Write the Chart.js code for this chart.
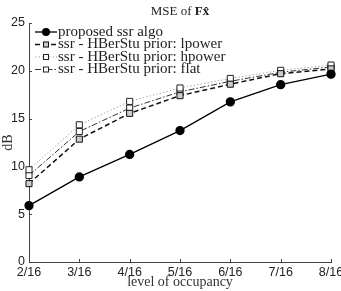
<!DOCTYPE html>
<html><head><meta charset="utf-8">
<script src="https://cdn.jsdelivr.net/npm/chart.js@4.4.0/dist/chart.umd.min.js"></script>
<style>
html,body{margin:0;padding:0;background:#fff;overflow:hidden;}
#wrap{width:341px;height:291px;overflow:hidden;position:relative;}
#box{width:350px;height:291px;position:absolute;left:0;top:0;}
</style></head>
<body>
<div id="wrap"><div id="box"><canvas id="c"></canvas></div></div>
<script>
const categories = ['2/16','3/16','4/16','5/16','6/16','7/16','8/16'];
const proposed = [5.9, 8.9, 11.25, 13.75, 16.75, 18.55, 19.65];
const lpower   = [8.2, 12.85, 15.55, 17.4, 18.6, 19.7, 20.2];
const hpower   = [9.65, 14.35, 16.8, 18.2, 19.2, 20.05, 20.6];
const flat     = [9.05, 13.65, 16.1, 17.8, 18.9, 19.85, 20.4];
const yTicks   = [0, 5, 10, 15, 20, 25];
const seriesNames = ['proposed ssr algo','ssr - HBerStu prior: lpower','ssr - HBerStu prior: hpower','ssr - HBerStu prior: flat'];

const SERIF = '"Liberation Serif","DejaVu Serif",serif';
const SANS = '"Liberation Sans",Arial,sans-serif';

const overlay = {
  id: 'overlay',
  afterDraw(chart) {
    const ctx = chart.ctx;
    const x = chart.scales.x, y = chart.scales.y;
    const ca = chart.chartArea;
    ctx.save();
    ctx.strokeStyle = '#444'; ctx.lineWidth = 1;
    yTicks.forEach(v => {
      const py = Math.round(y.getPixelForValue(v)) + 0.5;
      ctx.beginPath(); ctx.moveTo(ca.left, py); ctx.lineTo(ca.left + 3, py); ctx.stroke();
    });
    categories.forEach((c, i) => {
      const px = Math.round(x.getPixelForValue(i)) + 0.5;
      ctx.beginPath(); ctx.moveTo(px, ca.bottom); ctx.lineTo(px, ca.bottom - 3); ctx.stroke();
    });
    // title
    const cx = (ca.left + ca.right) / 2;
    ctx.fillStyle = '#222';
    ctx.textBaseline = 'middle';
    const t1 = 'MSE of ', t2 = 'Fx\u0302';
    ctx.font = '13px ' + SERIF;
    const w1 = ctx.measureText(t1).width;
    ctx.font = 'bold 13px ' + SERIF;
    const w2 = ctx.measureText(t2).width;
    const sx = cx - (w1 + w2) / 2;
    ctx.textAlign = 'left';
    ctx.font = '13px ' + SERIF; ctx.fillText(t1, sx, 12);
    ctx.font = 'bold 13px ' + SERIF; ctx.fillText(t2, sx + w1, 12);
    // legend
    const ds = chart.data.datasets;
    const rows = [32, 44.5, 57, 69.5];
    ctx.font = '15px ' + SERIF;
    ds.forEach((d, i) => {
      const ry = rows[i];
      ctx.save();
      ctx.strokeStyle = d.borderColor; ctx.lineWidth = d.borderWidth;
      ctx.setLineDash(d.borderDash || []);
      ctx.beginPath(); ctx.moveTo(35, ry); ctx.lineTo(57, ry); ctx.stroke();
      ctx.setLineDash([]);
      ctx.fillStyle = d.pointBackgroundColor; ctx.strokeStyle = d.pointBorderColor; ctx.lineWidth = 1;
      if (d.pointStyle === 'circle') {
        ctx.beginPath(); ctx.arc(46, ry, 4, 0, Math.PI * 2); ctx.fill();
      } else {
        ctx.fillRect(43, ry - 3, 6, 6); ctx.strokeRect(43.5, ry - 2.5, 5, 5);
      }
      ctx.restore();
      ctx.fillStyle = '#222'; ctx.textAlign = 'left'; ctx.textBaseline = 'middle';
      ctx.fillText(seriesNames[i], 58, ry);
    });
    ctx.restore();
  }
};

new Chart(document.getElementById('c'), {
  type: 'line',
  data: {
    labels: categories,
    datasets: [
      { label: seriesNames[0], data: proposed, borderColor: '#000', borderWidth: 1.3,
        pointStyle: 'circle', pointRadius: 4, pointBackgroundColor: '#000', pointBorderColor: '#000', tension: 0 },
      { label: seriesNames[1], data: lpower, borderColor: '#111', borderWidth: 1.5, borderDash: [5, 3],
        pointStyle: 'rect', pointRadius: 4.3, pointBackgroundColor: '#ccc', pointBorderColor: '#111', pointBorderWidth: 1, tension: 0 },
      { label: seriesNames[2], data: hpower, borderColor: '#aaa', borderWidth: 1, borderDash: [1.5, 2],
        pointStyle: 'rect', pointRadius: 4.3, pointBackgroundColor: '#fff', pointBorderColor: '#222', pointBorderWidth: 1, tension: 0 },
      { label: seriesNames[3], data: flat, borderColor: '#333', borderWidth: 1, borderDash: [6, 2, 1.5, 2],
        pointStyle: 'rect', pointRadius: 4.3, pointBackgroundColor: '#fff', pointBorderColor: '#222', pointBorderWidth: 1, tension: 0 }
    ]
  },
  options: {
    responsive: true, maintainAspectRatio: false, animation: false,
    layout: { padding: { top: 23, left: 0, right: 19, bottom: 0 } },
    plugins: { legend: { display: false }, title: { display: false }, tooltip: { enabled: false } },
    scales: {
      x: {
        type: 'category', offset: false,
        afterFit(s) { s.height = 29; },
        grid: { display: false, drawTicks: false },
        border: { display: true, color: '#444', width: 1 },
        ticks: { color: '#222', font: { family: SANS, size: 12.5 }, padding: 3, maxRotation: 0, autoSkip: false },
        title: { display: true, text: 'level of occupancy', color: '#333', font: { family: SERIF, size: 14 }, padding: { top: -3, bottom: 0 } }
      },
      y: {
        min: 0, max: 25,
        afterFit(s) { s.width = 29; },
        afterBuildTicks(s) { s.ticks = yTicks.map(v => ({ value: v })); },
        grid: { display: false, drawTicks: false },
        border: { display: true, color: '#444', width: 1 },
        ticks: { color: '#222', font: { family: SANS, size: 12.5 }, padding: 4 },
        title: { display: true, text: 'dB', color: '#333', font: { family: SERIF, size: 14 }, padding: { top: 0, bottom: 0 } }
      }
    }
  },
  plugins: [overlay]
});
</script>
</body></html>
